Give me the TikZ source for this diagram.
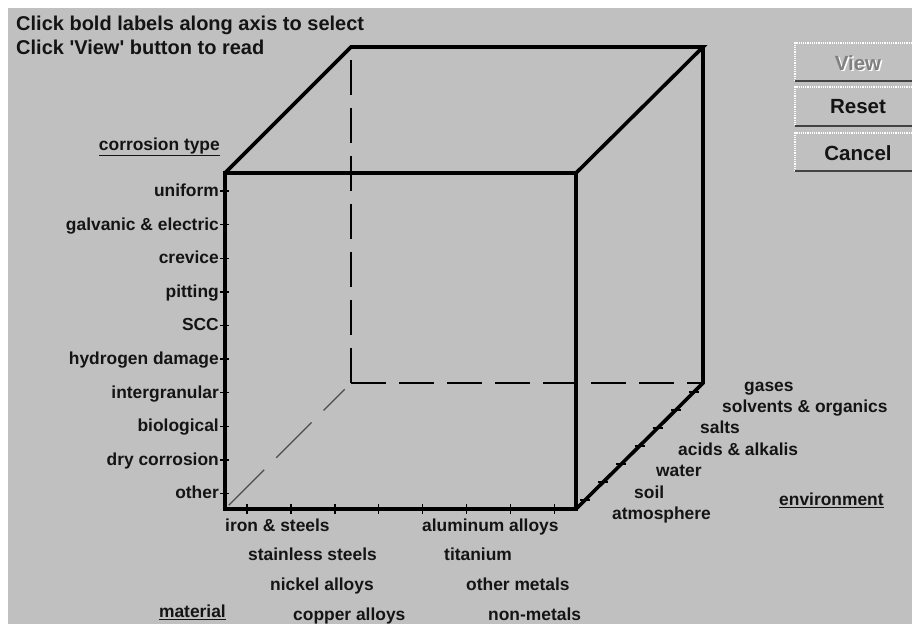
\documentclass[tikz,border=0pt]{standalone}
\usepackage{fontspec}
\setmainfont{Liberation Sans}
\usetikzlibrary{calc}
\definecolor{wingray}{RGB}{192,192,192}
\definecolor{dimgray}{RGB}{128,128,128}
\definecolor{ink}{RGB}{20,20,20}

\begin{document}
\begin{tikzpicture}[x=1pt,y=-1pt,
    lbl/.style={font=\fontsize{17.4}{19}\selectfont\bfseries,text=ink,inner sep=0pt,text height=14.5pt,text depth=3.5pt},
    hdr/.style={font=\fontsize{20}{22}\selectfont\bfseries,text=ink,inner sep=0pt,anchor=west,text height=16pt,text depth=4pt},
    btntext/.style={font=\fontsize{20.5}{22}\selectfont\bfseries,text=ink,inner sep=0pt},
    edge/.style={line width=3.6pt},
    hidden/.style={line width=1.4pt,dash pattern=on 35pt off 13pt},
    tick/.style={line width=1.4pt}]

    \useasboundingbox (0,0) rectangle (912,624);
    \fill[white] (0,0) rectangle (912,624);
    \fill[wingray] (8,8) rectangle (912,624);

    \node[hdr] (line1) at (16,24) {Click bold labels along axis to select};
    \node[hdr] (line2) at (16,48) {Click \textquotesingle View\textquotesingle\ button to read};

    % buttons
    \foreach \t/\b in {43/81,87/126,133/171}{
      \draw[white,line width=1.2pt,densely dotted] (912,\t) -- (795,\t) -- (795,\b);
      \draw[ink!80,line width=2.5pt] (795,\b) -- (912,\b);
    }
    \node[btntext,text=white] at (859.5,64.5) {View};
    \node[btntext,text=dimgray] (view) at (858,63) {View};
    \node[btntext] (reset) at (858,107) {Reset};
    \node[btntext] (cancel) at (858,153) {Cancel};

    % cube
    \coordinate (A) at (225,173); \coordinate (B) at (576,173);
    \coordinate (C) at (576,509); \coordinate (D) at (225,509);
    \coordinate (E) at (351,47);  \coordinate (F) at (703,47);
    \coordinate (G) at (703,383); \coordinate (H) at (351,383);

    \draw[hidden] (H) -- (E);
    \draw[hidden] (H) -- (G);
    \draw[hidden,gray!60!black,line width=1.1pt,dash pattern=on 50pt off 17pt] ($(D)!0.03!(H)$) -- ($(D)!0.95!(H)$);
    \draw[edge] (A) -- (B) -- (C) -- (D) -- cycle;
    \draw[edge] (A) -- (E) -- (F) -- (B);
    \draw[edge] (F) -- (G) -- (C);

    % ticks
    \foreach \i in {0,...,9} \draw[tick] (220,191+33.6*\i) -- (229,191+33.6*\i);
    \foreach \i in {0,...,7} \draw[tick] (247+43.9*\i,504) -- (247+43.9*\i,514);
    \foreach \i in {0,...,6} \draw[tick] ($(C)!{(\i+0.5)/7}!(G)$) +(-5,0) -- +(5,0);

    % corrosion type
    \node[lbl,anchor=east] (ctype) at (220,145) {\underline{corrosion type}};
    \foreach \txt [count=\i from 0] in {uniform,galvanic \& electric,crevice,pitting,SCC,hydrogen damage,intergranular,biological,dry corrosion,other}
      \node[lbl,anchor=east] (ct\i) at (219,191+33.6*\i) {\txt};

    % material
    \node[lbl,anchor=east] (mat) at (226,612) {\underline{material}};
    \foreach \x/\y/\txt [count=\i] in {225/526/iron \& steels,248/555/stainless steels,270/585/nickel alloys,293/615/copper alloys,
                                        422/526/aluminum alloys,444/555/titanium,466/585/other metals,488/615/non-metals}
      \node[lbl,anchor=west] (mt\i) at (\x,\y) {\txt};

    % environment
    \node[lbl,anchor=west] (env) at (779,500) {\underline{environment}};
    \foreach \txt [count=\i from 0] in {atmosphere,soil,water,acids \& alkalis,salts,solvents \& organics,gases}
      \node[lbl,anchor=west] (en\i) at (612+22*\i,514-21.4*\i) {\txt};

\end{tikzpicture}
\end{document}
